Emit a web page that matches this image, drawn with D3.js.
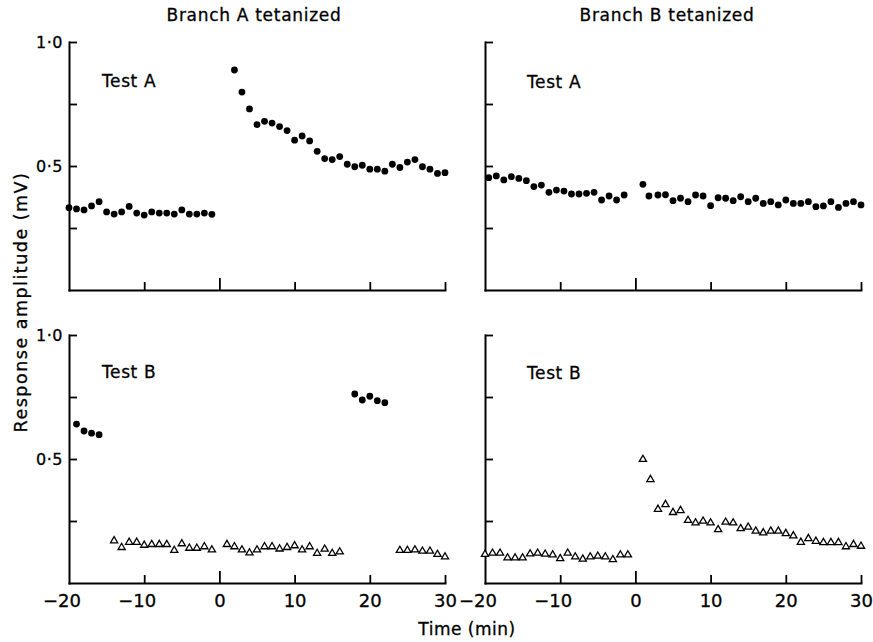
<!DOCTYPE html>
<html><head><meta charset="utf-8">
<script src="https://cdn.jsdelivr.net/npm/d3@7"></script>
<style>
body{margin:0;background:#fff}
svg text{font-family:"DejaVu Sans",sans-serif;fill:#000;stroke:#000;stroke-width:0.3px}
</style>
</head><body>
<svg id="c" width="873" height="642"></svg>
<script>
// ---------- tick labels / texts ----------
const xTicks = [-20, -10, 0, 10, 20, 30];
const xTickLabels = ["\u221220", "\u221210", "0", "10", "20", "30"];
const yTicks = [0.25, 0.5, 0.75, 1.0];
const yTickLabels = ["", "0\u00B75", "", "1\u00B70"];
const columnTitles = ["Branch A tetanized", "Branch B tetanized"];
const panelLabels = ["Test A", "Test A", "Test B", "Test B"];
const xTitle = "Time (min)";
const yTitle = "Response amplitude (mV)";

// ---------- data (time in min, amplitude in mV) ----------
// Branch A tetanized, Test A (filled circles)
const aA_preT = [-20,-19,-18,-17,-16,-15,-14,-13,-12,-11,-10,-9,-8,-7,-6,-5,-4,-3,-2,-1];
const aA_preV = [0.332,0.327,0.323,0.339,0.356,0.315,0.306,0.315,0.337,0.310,0.302,0.315,0.310,0.310,0.306,0.323,0.306,0.306,0.310,0.305];
const aA_postT = [2,3,4,5,6,7,8,9,10,11,12,13,14,15,16,17,18,19,20,21,22,23,24,25,26,27,28,29,30];
const aA_postV = [0.887,0.798,0.730,0.667,0.680,0.673,0.659,0.643,0.604,0.621,0.601,0.559,0.530,0.526,0.538,0.507,0.497,0.503,0.487,0.487,0.479,0.507,0.494,0.516,0.526,0.497,0.487,0.470,0.473];

// Branch B tetanized, Test A (filled circles)
const bA_preT = [-19.5,-18.5,-17.5,-16.5,-15.5,-14.5,-13.5,-12.5,-11.5,-10.5,-9.5,-8.5,-7.5,-6.5,-5.5,-4.5,-3.5,-2.5,-1.5];
const bA_preV = [0.453,0.460,0.444,0.457,0.450,0.441,0.417,0.423,0.394,0.403,0.399,0.387,0.387,0.390,0.394,0.363,0.379,0.363,0.383];
const bA_postT = [1,1.8,3,4,5,6,7,8,9,10,11,12,13,14,15,16,17,18,19,20,21,22,23,24,25,26,27,28,29,30];
const bA_postV = [0.426,0.379,0.383,0.384,0.360,0.370,0.356,0.383,0.379,0.340,0.372,0.370,0.360,0.376,0.356,0.370,0.349,0.356,0.343,0.363,0.349,0.349,0.356,0.336,0.339,0.356,0.333,0.349,0.356,0.343];

// Branch A tetanized, Test B (filled circles + open triangles)
const aB_circ1T = [-19,-18,-17,-16];
const aB_circ1V = [0.641,0.613,0.604,0.598];
const aB_circ2T = [18,19,20,21,22];
const aB_circ2V = [0.762,0.738,0.753,0.735,0.727];
const aB_tri1T = [-14,-13,-12,-11,-10,-9,-8,-7,-6,-5,-4,-3,-2,-1];
const aB_tri1V = [0.171,0.144,0.165,0.165,0.153,0.156,0.156,0.156,0.132,0.159,0.141,0.141,0.147,0.134];
const aB_tri2T = [1,2,3,4,5,6,7,8,9,10,11,12,13,14,15,16];
const aB_tri2V = [0.156,0.147,0.134,0.122,0.134,0.147,0.147,0.138,0.144,0.151,0.134,0.147,0.120,0.137,0.120,0.126];
const aB_tri3T = [24,25,26,27,28,29,30];
const aB_tri3V = [0.132,0.132,0.134,0.129,0.129,0.116,0.106];

// Branch B tetanized, Test B (open triangles)
const bB_preT = [-20,-19,-18,-17,-16,-15,-14,-13,-12,-11,-10,-9,-8,-7,-6,-5,-4,-3,-2,-1];
const bB_preV = [0.116,0.121,0.121,0.102,0.102,0.102,0.118,0.121,0.117,0.114,0.099,0.121,0.106,0.097,0.106,0.109,0.106,0.095,0.114,0.114];
const bB_postT = [1,2,3,4,5,6,7,8,9,10,11,12,13,14,15,16,17,18,19,20,21,22,23,24,25,26,27,28,29,30];
const bB_postV = [0.499,0.418,0.298,0.317,0.285,0.293,0.253,0.243,0.250,0.243,0.216,0.246,0.243,0.220,0.226,0.210,0.203,0.210,0.210,0.200,0.191,0.165,0.180,0.169,0.164,0.164,0.164,0.147,0.156,0.149];

// ---------- layout ----------
const cols = [{x0: 69, x1: 445}, {x0: 485, x1: 861}];
const rows = [{y0: 290, y1: 42}, {y0: 583, y1: 335}];
const labelPos = [[102, 87], [527, 88], [102, 378], [527, 379]];

const panels = [
  {c: 0, r: 0, series: [{t: aA_preT, v: aA_preV, s: "circle"}, {t: aA_postT, v: aA_postV, s: "circle"}]},
  {c: 1, r: 0, series: [{t: bA_preT, v: bA_preV, s: "circle"}, {t: bA_postT, v: bA_postV, s: "circle"}]},
  {c: 0, r: 1, series: [{t: aB_circ1T, v: aB_circ1V, s: "circle"}, {t: aB_circ2T, v: aB_circ2V, s: "circle"},
                        {t: aB_tri1T, v: aB_tri1V, s: "tri"}, {t: aB_tri2T, v: aB_tri2V, s: "tri"}, {t: aB_tri3T, v: aB_tri3V, s: "tri"}]},
  {c: 1, r: 1, series: [{t: bB_preT, v: bB_preV, s: "tri"}, {t: bB_postT, v: bB_postV, s: "tri"}]}
];

const svg = d3.select("#c");
const triPath = "M0,-4 L3.6,2.2 L-3.6,2.2 Z";

panels.forEach((p, i) => {
  const col = cols[p.c], row = rows[p.r];
  const x = d3.scaleLinear().domain([-20, 30]).range([col.x0, col.x1]);
  const y = d3.scaleLinear().domain([0, 1]).range([row.y0, row.y1]);
  const g = svg.append("g");

  // y axis
  const ya = g.append("g").attr("transform", `translate(${col.x0},0)`)
    .call(d3.axisLeft(y).tickValues(yTicks).tickSize(-8).tickSizeOuter(0).tickPadding(6)
      .tickFormat((d, j) => p.c === 0 ? yTickLabels[j] : ""));
  ya.attr("font-size", null).attr("font-family", null);
  ya.selectAll("text").style("font-size", "16px").attr("letter-spacing", "0.5px");

  // x axis
  const xa = g.append("g").attr("transform", `translate(0,${row.y0})`)
    .call(d3.axisBottom(x).tickValues(xTicks).tickSize(-8).tickSizeOuter(0).tickPadding(11)
      .tickFormat((d, j) => p.r === 1 ? xTickLabels[j] : ""));
  xa.attr("font-size", null).attr("font-family", null);
  xa.selectAll("text").style("font-size", "18px")
    .attr("dx", d => d < 0 ? "-0.42em" : null);
  xa.selectAll(".tick line").filter(d => d === 0).attr("y2", -12);
  xa.selectAll(".tick").filter(d => d === -20).select("line").remove();

  [ya, xa].forEach(a => {
    a.select(".domain").attr("stroke-width", 2).attr("stroke-linecap", "square");
    a.selectAll(".tick line").attr("stroke-width", 1.8);
  });

  // marks
  p.series.forEach(s => {
    const pts = s.t.map((t, k) => ({t, v: s.v[k]}));
    if (s.s === "circle") {
      g.append("g").selectAll("circle").data(pts).join("circle")
        .attr("cx", d => x(d.t)).attr("cy", d => y(d.v)).attr("r", 3.4).attr("fill", "#000");
    } else {
      g.append("g").selectAll("path").data(pts).join("path")
        .attr("d", triPath)
        .attr("transform", d => `translate(${x(d.t)},${y(d.v)})`)
        .attr("fill", "#fff").attr("stroke", "#000").attr("stroke-width", 1.3)
        .attr("stroke-linejoin", "miter");
    }
  });

  // panel label
  g.append("text").attr("x", labelPos[i][0]).attr("y", labelPos[i][1])
    .style("font-size", "17px").attr("letter-spacing", "0.6px").text(panelLabels[i]);
});

// column titles
columnTitles.forEach((t, j) => {
  svg.append("text").attr("x", j === 0 ? 254 : 667).attr("y", 21)
    .attr("text-anchor", "middle").style("font-size", "17px").attr("letter-spacing", "0.7px").text(t);
});

// axis titles
svg.append("text").attr("x", 467).attr("y", 635).attr("text-anchor", "middle")
  .style("font-size", "17px").attr("letter-spacing", "0.5px").text(xTitle);
svg.append("text").attr("transform", "translate(27,302) rotate(-90)")
  .attr("text-anchor", "middle").style("font-size", "17.5px").attr("letter-spacing", "1.5px").text(yTitle);
</script>
</body></html>
